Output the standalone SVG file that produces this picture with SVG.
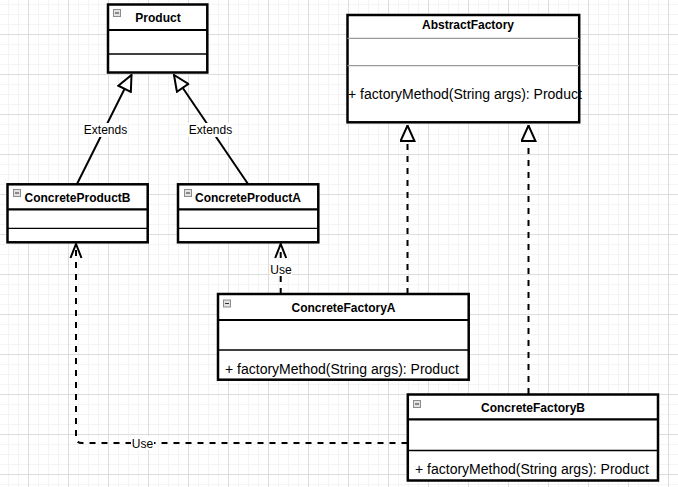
<svg xmlns="http://www.w3.org/2000/svg" width="678" height="487" viewBox="0 0 678 487">
<style>
  .box { fill: #ffffff; stroke: #000000; stroke-width: 2.5; }
  .sepH { stroke: #000000; stroke-width: 2.2; }
  .sep { stroke: #000000; stroke-width: 1.3; }
  .sepG { stroke: #9a9a9a; stroke-width: 1.2; }
  .title { font-family: "Liberation Sans", Arial, sans-serif; font-size: 12px; font-weight: bold; fill: #000000; text-anchor: middle; }
  .method { font-family: "Liberation Sans", Arial, sans-serif; font-size: 14px; fill: #000000; }
  .lbl { font-family: "Liberation Sans", Arial, sans-serif; font-size: 12px; fill: #000000; text-anchor: middle; }
  .solid { fill: none; stroke: #000000; stroke-width: 2; }
  .dash { fill: none; stroke: #000000; stroke-width: 2; stroke-dasharray: 6 6; }
</style>
<defs>
  <pattern id="grid" patternUnits="userSpaceOnUse" x="28" y="34" width="40" height="40">
    <rect x="0" y="0" width="40" height="40" fill="#ffffff"/>
    <rect x="10" y="0" width="1" height="40" fill="#f4f4f4"/>
    <rect x="20" y="0" width="1" height="40" fill="#f4f4f4"/>
    <rect x="30" y="0" width="1" height="40" fill="#f4f4f4"/>
    <rect x="0" y="10" width="40" height="1" fill="#f4f4f4"/>
    <rect x="0" y="20" width="40" height="1" fill="#f4f4f4"/>
    <rect x="0" y="30" width="40" height="1" fill="#f4f4f4"/>
    <rect x="0" y="0" width="1" height="40" fill="#dddddd"/>
    <rect x="0" y="0" width="40" height="1" fill="#dddddd"/>
  </pattern>
  <g id="icon">
    <rect x="0.5" y="0.5" width="7" height="7" fill="#e2e2e2" stroke="#8c8c8c" stroke-width="1"/>
    <line x1="2" y1="4" x2="6" y2="4" stroke="#333333" stroke-width="1"/>
  </g>
  <marker id="tri" viewBox="0 0 18 16" refX="17" refY="8" markerWidth="18" markerHeight="16" markerUnits="userSpaceOnUse" orient="auto">
    <path d="M1.5,1 L17,8 L1.5,15 Z" fill="#ffffff" stroke="#000000" stroke-width="2" stroke-dasharray="none"/>
  </marker>
  <marker id="open" viewBox="0 0 16 14" refX="15" refY="7" markerWidth="16" markerHeight="14" markerUnits="userSpaceOnUse" orient="auto">
    <path d="M1,1.5 L15,7 L1,12.5" fill="none" stroke="#000000" stroke-width="2" stroke-dasharray="none"/>
  </marker>
</defs>

<rect x="0" y="0" width="678" height="487" fill="url(#grid)"/>

<g id="connectors">
  <path class="solid" d="M77,184 L131.5,75" marker-end="url(#tri)"/>
  <path class="solid" d="M248,184 L174,75" marker-end="url(#tri)"/>
  <path class="dash" d="M407.5,294 L407.5,125.5" marker-end="url(#tri)"/>
  <path class="dash" d="M528.5,394 L528.5,125.5" marker-end="url(#tri)"/>
  <path class="dash" d="M280.7,294 L280.7,244" marker-end="url(#open)"/>
  <path class="dash" d="M407.5,443 L82,443 Q76,443 76,437 L76,244" marker-end="url(#open)"/>
  <rect x="83" y="123" width="45" height="14" fill="#ffffff"/>
  <text class="lbl" x="105.5" y="134">Extends</text>
  <rect x="188" y="123" width="45" height="14" fill="#ffffff"/>
  <text class="lbl" x="210.5" y="134">Extends</text>
  <rect x="270" y="262" width="22" height="14" fill="#ffffff"/>
  <text class="lbl" x="281" y="273.5">Use</text>
  <rect x="131" y="436" width="23" height="14" fill="#ffffff"/>
  <text class="lbl" x="142.5" y="447.5">Use</text>
</g>

<g id="Product">
  <rect class="box" x="108" y="4.5" width="99.3" height="68"/>
  <line class="sepH" x1="108" y1="30" x2="207.3" y2="30"/>
  <line class="sep" x1="108" y1="54" x2="207.3" y2="54"/>
  <use href="#icon" x="113" y="9"/>
  <text class="title" x="158" y="22">Product</text>
</g>

<g id="AbstractFactory">
  <rect class="box" x="347.5" y="15" width="231.7" height="107.3"/>
  <line class="sepG" x1="347.5" y1="38.3" x2="579.2" y2="38.3"/>
  <line class="sepG" x1="347.5" y1="65.7" x2="579.2" y2="65.7"/>
  <text class="title" x="468" y="29">AbstractFactory</text>
  <text class="method" x="348" y="99">+ factoryMethod(String args): Product</text>
</g>

<g id="ConcreteProductB">
  <rect class="box" x="7.5" y="184.3" width="140.2" height="58"/>
  <line class="sepH" x1="7.5" y1="209.3" x2="147.7" y2="209.3"/>
  <line class="sep" x1="7.5" y1="228.3" x2="147.7" y2="228.3"/>
  <use href="#icon" x="13" y="189"/>
  <text class="title" x="77.5" y="202">ConcreteProductB</text>
</g>

<g id="ConcreteProductA">
  <rect class="box" x="178" y="184.3" width="140.3" height="58"/>
  <line class="sepH" x1="178" y1="209.3" x2="318.3" y2="209.3"/>
  <line class="sep" x1="178" y1="228.3" x2="318.3" y2="228.3"/>
  <use href="#icon" x="184" y="189"/>
  <text class="title" x="248" y="202">ConcreteProductA</text>
</g>

<g id="ConcreteFactoryA">
  <rect class="box" x="218" y="294" width="250.7" height="85.7"/>
  <line class="sepH" x1="218" y1="320" x2="468.7" y2="320"/>
  <line class="sep" x1="218" y1="350" x2="468.7" y2="350"/>
  <use href="#icon" x="223" y="299.5"/>
  <text class="title" x="343.5" y="311.7">ConcreteFactoryA</text>
  <text class="method" x="225" y="374">+ factoryMethod(String args): Product</text>
</g>

<g id="ConcreteFactoryB">
  <rect class="box" x="407.8" y="394.5" width="250.2" height="86"/>
  <line class="sepH" x1="407.8" y1="419.3" x2="658" y2="419.3"/>
  <line class="sep" x1="407.8" y1="450.5" x2="658" y2="450.5"/>
  <use href="#icon" x="413" y="400"/>
  <text class="title" x="533" y="412">ConcreteFactoryB</text>
  <text class="method" x="415" y="474">+ factoryMethod(String args): Product</text>
</g>
</svg>
